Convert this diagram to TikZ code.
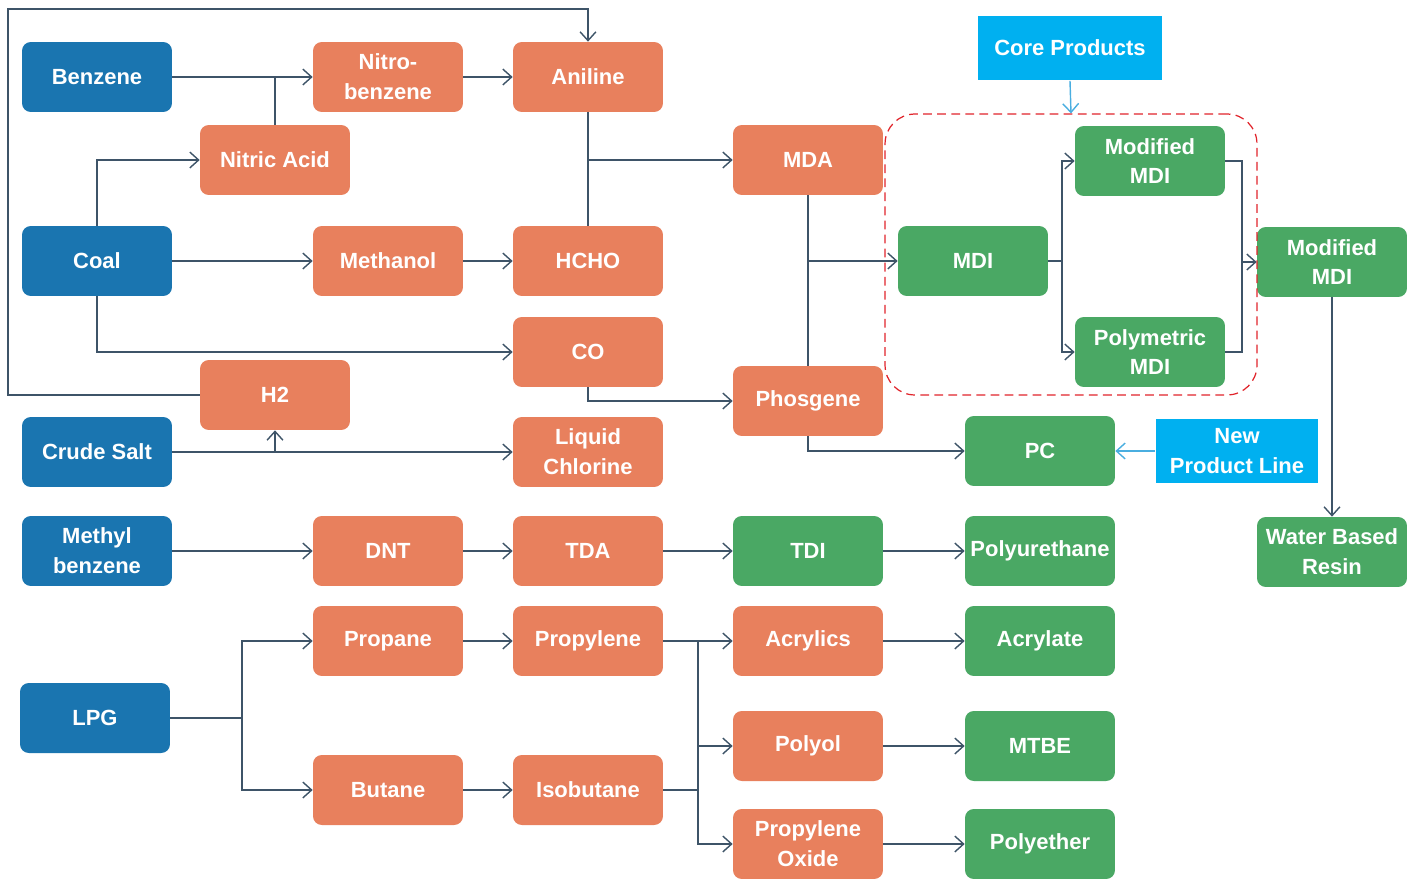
\documentclass[tikz,border=0pt]{standalone}
\usepackage{fontspec}
\setmainfont{Liberation Sans}
\usetikzlibrary{arrows.meta,calc}
\definecolor{cblue}{HTML}{1A75B0}
\definecolor{corange}{HTML}{E8805D}
\definecolor{cgreen}{HTML}{4AA864}
\definecolor{ccyan}{HTML}{00B0F0}
\definecolor{cline}{HTML}{3E5468}
\definecolor{clight}{HTML}{4AAEE0}
\definecolor{cred}{HTML}{E0242B}
\begin{document}
\begin{tikzpicture}[x=0.02cm,y=-0.02cm,
 box/.style={rounded corners=5pt, minimum width=3cm, minimum height=1.4cm, text=white,
   font=\bfseries\fontsize{12.5}{17}\selectfont, align=center, inner sep=0pt},
 bl/.style={box, fill=cblue},
 og/.style={box, fill=corange},
 gr/.style={box, fill=cgreen},
 tag/.style={fill=ccyan, text=white, font=\bfseries\fontsize{12.5}{17}\selectfont, align=center, inner sep=0pt},
 ln/.style={draw=cline, line width=0.8pt},
 ar/.style={ln, -{Straight Barb[length=5pt,width=9pt]}},
 arc/.style={draw=clight, line width=0.8pt, -{Straight Barb[length=5pt,width=9pt]}}
]
\useasboundingbox (0,0) rectangle (1417,879);
% blue sources
\node[bl] (benzene) at (97,77) {Benzene};
\node[bl] (coal) at (97,261) {Coal};
\node[bl] (salt) at (97,452) {Crude Salt};
\node[bl] (methyl) at (97,551) {Methyl\\benzene};
\node[bl] (lpg) at (95,718) {LPG};
% column 2
\node[og] (nitro) at (388,77) {Nitro-\\benzene};
\node[og] (nitric) at (275,160) {Nitric Acid};
\node[og] (methanol) at (388,261) {Methanol};
\node[og] (h2) at (275,395) {H2};
\node[og] (dnt) at (388,551) {DNT};
\node[og] (propane) at (388,641) {Propane};
\node[og] (butane) at (388,790) {Butane};
% column 3
\node[og] (aniline) at (588,77) {Aniline};
\node[og] (hcho) at (588,261) {HCHO};
\node[og] (co) at (588,352) {CO};
\node[og] (cl) at (588,452) {Liquid\\Chlorine};
\node[og] (tda) at (588,551) {TDA};
\node[og] (propylene) at (588,641) {Propylene};
\node[og] (isobutane) at (588,790) {Isobutane};
% column 4
\node[og] (mda) at (808,160) {MDA};
\node[og] (phos) at (808,401) {Phosgene};
\node[gr] (tdi) at (808,551) {TDI};
\node[og] (acrylics) at (808,641) {Acrylics};
\node[og] (polyol) at (808,746) {Polyol};
\node[og] (po) at (808,844) {Propylene\\Oxide};
% column 5
\node[gr] (mdi) at (973,261) {MDI};
\node[gr] (pc) at (1040,451) {PC};
\node[gr] (pu) at (1040,551) {Polyurethane};
\node[gr] (acrylate) at (1040,641) {Acrylate};
\node[gr] (mtbe) at (1040,746) {MTBE};
\node[gr] (polyether) at (1040,844) {Polyether};
% MDI group
\node[gr] (mmdi) at (1150,161) {Modified\\MDI};
\node[gr] (pmdi) at (1150,352) {Polymetric\\MDI};
\node[gr] (mmdi2) at (1332,262) {Modified\\MDI};
\node[gr] (wbr) at (1332,552) {Water Based\\Resin};
\node[draw=cred, dashed, dash pattern=on 5pt off 3pt, line width=0.7pt, rounded corners=17pt,
      minimum width=7.44cm, minimum height=5.62cm, inner sep=0pt] (corebox) at (1071,254.5) {};
% tags
\node[tag, minimum width=3.7cm, minimum height=1.3cm] (core) at (1070,48) {Core Products};
\node[tag, minimum width=3.26cm, minimum height=1.3cm] (npl) at (1237,451) {New\\Product Line};
% coordinates
\coordinate (lt) at (8,9);
\coordinate (j1) at (1062,261);
\coordinate (j2) at (1242,262);
\coordinate (j3) at (242,718);
\coordinate (j4) at (698,641);
\coordinate (j5) at (698,790);
% connectors
\draw[ar] (benzene.east) -- (nitro.west);
\draw[ln] (nitric.north) -- (nitric.north |- nitro.west);
\draw[ar] (coal.north) |- (nitric.west);
\draw[ar] (coal.east) -- (methanol.west);
\draw[ar] (coal.south) |- (co.west);
\draw[ar] (methanol.east) -- (hcho.west);
\draw[ar] (nitro.east) -- (aniline.west);
\draw[ar] (h2.west) -| (lt) -| (aniline.north);
\draw[ln] (aniline.south) -- (hcho.north);
\draw[ar] (aniline.south |- mda.west) -- (mda.west);
\draw[ar] (co.south) |- (phos.west);
\draw[ar] (salt.east) -- (cl.west);
\draw[ar] (salt.east -| h2.south) -- (h2.south);
\draw[ln] (mda.south) -- (phos.north);
\draw[ar] (mda.south |- mdi.west) -- (mdi.west);
\draw[ar] (phos.south) |- (pc.west);
\draw[ln] (mdi.east) -- (j1);
\draw[ar] (j1) |- (mmdi.west);
\draw[ar] (j1) |- (pmdi.west);
\draw[ln] (mmdi.east) -| (j2);
\draw[ln] (pmdi.east) -| (j2);
\draw[ar] (j2) -- (mmdi2.west);
\draw[ar] (mmdi2.south) -- (wbr.north);
\draw[arc] (core.south) -- (corebox.north);
\draw[arc] (npl.west) -- (pc.east);
\draw[ar] (methyl.east) -- (dnt.west);
\draw[ar] (dnt.east) -- (tda.west);
\draw[ar] (tda.east) -- (tdi.west);
\draw[ar] (tdi.east) -- (pu.west);
\draw[ln] (lpg.east) -- (j3);
\draw[ar] (j3) |- (propane.west);
\draw[ar] (j3) |- (butane.west);
\draw[ar] (propane.east) -- (propylene.west);
\draw[ar] (butane.east) -- (isobutane.west);
\draw[ln] (propylene.east) -- (j4);
\draw[ln] (isobutane.east) -- (j5);
\draw[ar] (j4) -- (acrylics.west);
\draw[ar] (j4 |- polyol.west) -- (polyol.west);
\draw[ar] (j4) |- (po.west);
\draw[ar] (acrylics.east) -- (acrylate.west);
\draw[ar] (polyol.east) -- (mtbe.west);
\draw[ar] (po.east) -- (polyether.west);
\end{tikzpicture}
\end{document}
